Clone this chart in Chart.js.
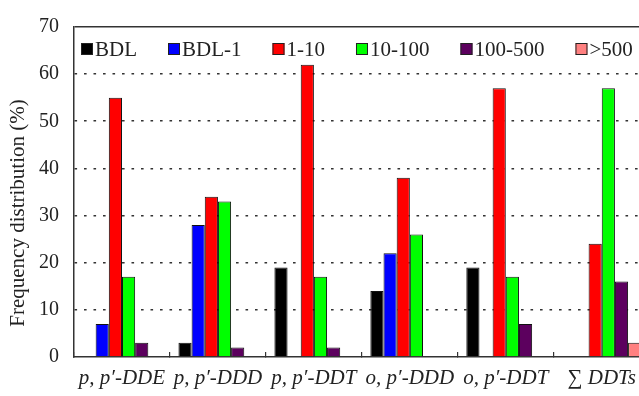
<!DOCTYPE html>
<html>
<head>
<meta charset="utf-8">
<script src="https://cdn.jsdelivr.net/npm/chart.js@4.4.1/dist/chart.umd.min.js"></script>
<style>
  html, body { margin: 0; padding: 0; background: #fff; overflow: hidden; }
  #wrap { width: 639px; height: 396px; overflow: hidden; position: relative; }
  canvas { display: block; }
</style>
</head>
<body>
<div id="wrap"><canvas id="c" width="650" height="396"></canvas></div>
<script>
// ---- data ----
const categories = ["p, p\u2032-DDE", "p, p\u2032-DDD", "p, p\u2032-DDT", "o, p\u2032-DDD", "o, p\u2032-DDT", "\u2211 DDTs"];
const seriesNames = ["BDL", "BDL-1", "1-10", "10-100", "100-500", ">500"];
const bdl      = [0, 3, 19, 14, 19, 0];
const bdl1     = [7, 28, 0, 22, 0, 0];
const r1to10   = [55, 34, 62, 38, 57, 24];
const r10to100 = [17, 33, 17, 26, 17, 57];
const r100to500= [3, 2, 2, 0, 7, 16];
const gt500    = [0, 0, 0, 0, 0, 3];
const yTicks   = [0, 10, 20, 30, 40, 50, 60, 70];

const seriesValues = [bdl, bdl1, r1to10, r10to100, r100to500, gt500];
const seriesColors = ["#000000", "#0000ff", "#ff0000", "#00ff00", "#5c005e", "#ff8080"];
const FONT = "'Liberation Serif', 'Times New Roman', serif";

const datasets = seriesNames.map((n, i) => ({
  label: n,
  data: seriesValues[i],
  backgroundColor: seriesColors[i],
  borderColor: "#111",
  borderWidth: ctx => (ctx.raw ? 1 : 0),
  borderSkipped: 'start',
  categoryPercentage: 0.823,
  barPercentage: 1.0
}));

// custom in-plot legend drawn from the datasets
const inPlotLegend = {
  id: 'inPlotLegend',
  afterDraw(chart) {
    const ctx = chart.ctx;
    const area = chart.chartArea;
    ctx.save();
    ctx.font = "21px " + FONT;
    ctx.textBaseline = 'middle';
    ctx.textAlign = 'left';
    let x = area.left + 7;
    const yc = area.top + 22;
    const box = 12;
    chart.data.datasets.forEach(ds => {
      ctx.fillStyle = ds.backgroundColor;
      ctx.fillRect(x, yc - box / 2, box, box);
      ctx.strokeStyle = "#222";
      ctx.lineWidth = 1;
      ctx.strokeRect(x + 0.5, yc - box / 2 + 0.5, box - 1, box - 1);
      ctx.fillStyle = "#222";
      ctx.fillText(ds.label, x + box + 2, yc + 1);
      x += box + 2 + ctx.measureText(ds.label).width + 31;
    });
    ctx.restore();
  }
};

new Chart(document.getElementById('c'), {
  type: 'bar',
  data: { labels: categories, datasets },
  plugins: [inPlotLegend],
  options: {
    responsive: false,
    animation: false,
    layout: { padding: { top: 21, left: 0, right: 0, bottom: 0 } },
    plugins: { legend: { display: false }, tooltip: { enabled: false } },
    scales: {
      x: {
        offset: true,
        grid: {
          display: true,
          drawOnChartArea: false,
          drawTicks: true,
          tickLength: -5,
          color: "#333",
          lineWidth: 1.2
        },
        border: { display: true, color: "#333", width: 1.5 },
        ticks: {
          padding: 14,
          color: "#222",
          font: { family: FONT, size: 21, style: 'italic' },
          maxRotation: 0,
          autoSkip: false
        },
        afterFit(scale) { scale.height = 39; }
      },
      y: {
        min: yTicks[0],
        max: yTicks[yTicks.length - 1],
        afterBuildTicks(scale) { scale.ticks = yTicks.map(v => ({ value: v })); },
        grid: {
          drawTicks: false,
          color: ctx => (ctx.tick && ctx.tick.value === 0 ? 'rgba(0,0,0,0)' : '#333'),
          lineWidth: ctx => (ctx.tick && ctx.tick.value === 70 ? 1.5 : 1.6)
        },
        border: {
          display: true, color: "#333", width: 1.5,
          dash: ctx => (ctx.tick && ctx.tick.value === 70 ? [] : [2.6, 6.9])
        },
        ticks: {
          padding: 15,
          color: "#222",
          font: { family: FONT, size: 20 }
        },
        title: {
          display: true,
          text: "Frequency distribution (%)\u2002\u2002\u2002\u2002",
          color: "#222",
          font: { family: FONT, size: 21 },
          padding: { top: 6, bottom: 0 }
        },
        afterFit(scale) { scale.width = 74; }
      }
    }
  }
});
</script>
</body>
</html>
